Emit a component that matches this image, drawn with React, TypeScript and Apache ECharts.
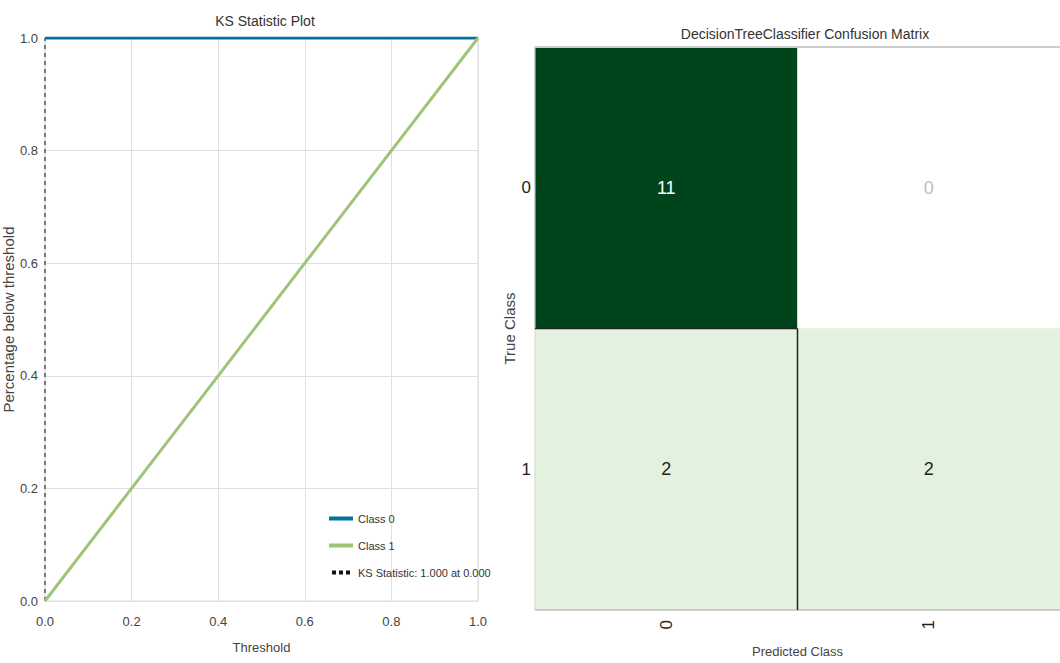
import React, { useEffect, useRef } from "react";
import * as echarts from "echarts";

const thresholds = [0, 0.2, 0.4, 0.6, 0.8, 1.0];
const class0 = [1, 1, 1, 1, 1, 1];
const class1 = [0, 0.2, 0.4, 0.6, 0.8, 1.0];
const ksLine: [number, number][] = [[0, 0], [0, 1]];
const ksLabel = "KS Statistic: 1.000 at 0.000";

const predictedClasses = ["0", "1"];
const trueClasses = ["0", "1"];
// [predictedIndex, trueIndex, count]
const confusion: [number, number, number][] = [
  [0, 0, 11],
  [1, 0, 0],
  [0, 1, 2],
  [1, 1, 2],
];

const FONT = "'Liberation Sans Narrow', 'Arial Narrow', 'Liberation Sans', Arial, sans-serif";

export default function App() {
  const ref = useRef<HTMLDivElement>(null);
  useEffect(() => {
    if (!ref.current) return;
    const chart = echarts.init(ref.current, null, { renderer: "svg" });
    const textColor = "#444";
    const barIcon = "path://M0,0 L24,0 L24,4 L0,4 Z";
    const dotIcon = "path://M0,0h4v4h-4z M7,0h4v4h-4z M14,0h4v4h-4z";
    const option: any = {
      animation: false,
      textStyle: { fontFamily: FONT },
      title: [
        {
          text: "KS Statistic Plot",
          left: 260,
          textAlign: "center",
          top: 9,
          textStyle: { fontFamily: FONT, fontSize: 14, fontWeight: "normal", color: "#333" },
        },
        {
          text: "DecisionTreeClassifier Confusion Matrix",
          left: 800,
          textAlign: "center",
          top: 22,
          textStyle: { fontFamily: FONT, fontSize: 14, fontWeight: "normal", color: "#333" },
        },
      ],
      legend: {
        orient: "vertical",
        left: 324,
        top: 508,
        itemWidth: 24,
        itemHeight: 4,
        itemGap: 16,
        textStyle: { fontFamily: FONT, fontSize: 11, color: "#333" },
        data: [
          { name: "Class 0", icon: barIcon },
          { name: "Class 1", icon: barIcon },
          { name: ksLabel, icon: dotIcon, itemStyle: { color: "#111" } },
        ],
      },
      grid: [
        { left: 41, right: 582, top: 38, bottom: 62, show: true, borderColor: "#dcdcdc", borderWidth: 1 },
        { left: 535, right: 0, top: 47, bottom: 53, show: false },
      ],
      visualMap: {
        show: false,
        type: "piecewise",
        seriesIndex: 3,
        dimension: 2,
        pieces: [
          { value: 0, color: "#ffffff" },
          { min: 1, max: 5, color: "#e3f2de" },
          { min: 6, color: "#00441b" },
        ],
      },
      xAxis: [
        {
          gridIndex: 0,
          type: "value",
          min: 0,
          max: 1,
          interval: 0.2,
          name: "Threshold",
          nameLocation: "middle",
          nameGap: 40,
          nameTextStyle: { fontFamily: FONT, fontSize: 13, color: textColor },
          axisLine: { show: false },
          axisTick: { show: false },
          axisLabel: {
            margin: 14,
            fontSize: 13,
            color: textColor,
            fontFamily: FONT,
            formatter: (v: number) => v.toFixed(1),
            showMinLabel: true,
            showMaxLabel: true,
          },
          splitLine: { show: true, lineStyle: { color: "#e0e0e0", width: 1 } },
        },
        {
          gridIndex: 1,
          type: "category",
          data: predictedClasses,
          name: "Predicted Class",
          nameLocation: "middle",
          nameGap: 35,
          nameTextStyle: { fontFamily: FONT, fontSize: 13, color: textColor },
          axisLine: { show: false },
          axisTick: { show: false },
          axisLabel: { rotate: 90, margin: 10, fontSize: 17, color: "#222", fontFamily: FONT },
          splitLine: { show: false },
        },
      ],
      yAxis: [
        {
          gridIndex: 0,
          type: "value",
          min: 0,
          max: 1,
          interval: 0.2,
          name: "Percentage below threshold",
          nameLocation: "middle",
          nameGap: 26,
          nameTextStyle: { fontFamily: FONT, fontSize: 15, color: textColor },
          axisLine: { show: false },
          axisTick: { show: false },
          axisLabel: {
            margin: 7,
            fontSize: 13,
            color: textColor,
            fontFamily: FONT,
            formatter: (v: number) => v.toFixed(1),
          },
          splitLine: { show: true, lineStyle: { color: "#e0e0e0", width: 1 } },
        },
        {
          gridIndex: 1,
          type: "category",
          data: trueClasses,
          inverse: true,
          name: "True Class",
          nameLocation: "middle",
          nameGap: 18,
          nameTextStyle: { fontFamily: FONT, fontSize: 15, color: textColor },
          axisLine: { show: false },
          axisTick: { show: false },
          axisLabel: { margin: 4, fontSize: 17, color: "#222", fontFamily: FONT },
          splitLine: { show: false },
        },
      ],
      series: [
        {
          name: "Class 0",
          type: "line",
          xAxisIndex: 0,
          yAxisIndex: 0,
          symbol: "none",
          data: thresholds.map((t, i) => [t, class0[i]]),
          lineStyle: { color: "#0272a2", width: 3 },
          itemStyle: { color: "#0272a2" },
          z: 3,
        },
        {
          name: "Class 1",
          type: "line",
          xAxisIndex: 0,
          yAxisIndex: 0,
          symbol: "none",
          data: thresholds.map((t, i) => [t, class1[i]]),
          lineStyle: { color: "#9fc377", width: 3 },
          itemStyle: { color: "#9fc377" },
          z: 4,
        },
        {
          name: ksLabel,
          type: "line",
          xAxisIndex: 0,
          yAxisIndex: 0,
          symbol: "none",
          data: ksLine,
          lineStyle: { color: "#555", width: 1.5, type: [4, 4] },
          itemStyle: { color: "#111" },
          z: 2,
        },
        {
          name: "confusion",
          type: "heatmap",
          xAxisIndex: 1,
          yAxisIndex: 1,
          data: confusion.map((d) => ({
            value: d,
            label: { color: d[2] >= 6 ? "#ffffff" : d[2] === 0 ? "#bdbdbd" : "#222222" },
          })),
          label: {
            show: true,
            fontSize: 18,
            fontFamily: FONT,
            formatter: (p: any) => String(p.value[2]),
          },
          itemStyle: { borderWidth: 0 },
        },
      ],
    };
    chart.setOption(option);

    // separator and frame lines drawn from axis coordinates
    const c00 = chart.convertToPixel({ gridIndex: 1 }, [0, 0]) as number[];
    const c11 = chart.convertToPixel({ gridIndex: 1 }, [1, 1]) as number[];
    if (c00 && c11) {
      const midX = (c00[0] + c11[0]) / 2;
      const midY = (c00[1] + c11[1]) / 2;
      const halfW = (c11[0] - c00[0]) / 2;
      const halfH = (c11[1] - c00[1]) / 2;
      const x0 = c00[0] - halfW;
      const x1 = c11[0] + halfW;
      const y0 = c00[1] - halfH;
      const y1 = c11[1] + halfH;
      chart.setOption({
        graphic: [
          { type: "line", shape: { x1: x0, y1: y0, x2: x1, y2: y0 }, style: { stroke: "#cccccc", lineWidth: 2 }, z: 90 },
          { type: "line", shape: { x1: x0, y1: y1, x2: x1, y2: y1 }, style: { stroke: "#cccccc", lineWidth: 2 }, z: 90 },
          { type: "line", shape: { x1: x0, y1: y0, x2: x0, y2: y1 }, style: { stroke: "#d8d8d8", lineWidth: 1 }, z: 90 },
          { type: "line", shape: { x1: x0, y1: midY, x2: midX, y2: midY }, style: { stroke: "#222", lineWidth: 1.5 }, z: 100 },
          { type: "line", shape: { x1: midX, y1: midY, x2: midX, y2: y1 }, style: { stroke: "#222", lineWidth: 1.5 }, z: 100 },
        ],
      });
    }
    return () => chart.dispose();
  }, []);
  return (
    <div
      ref={ref}
      style={{ position: "fixed", left: 0, top: 0, width: 1060, height: 663, background: "#fff" }}
    />
  );
}
